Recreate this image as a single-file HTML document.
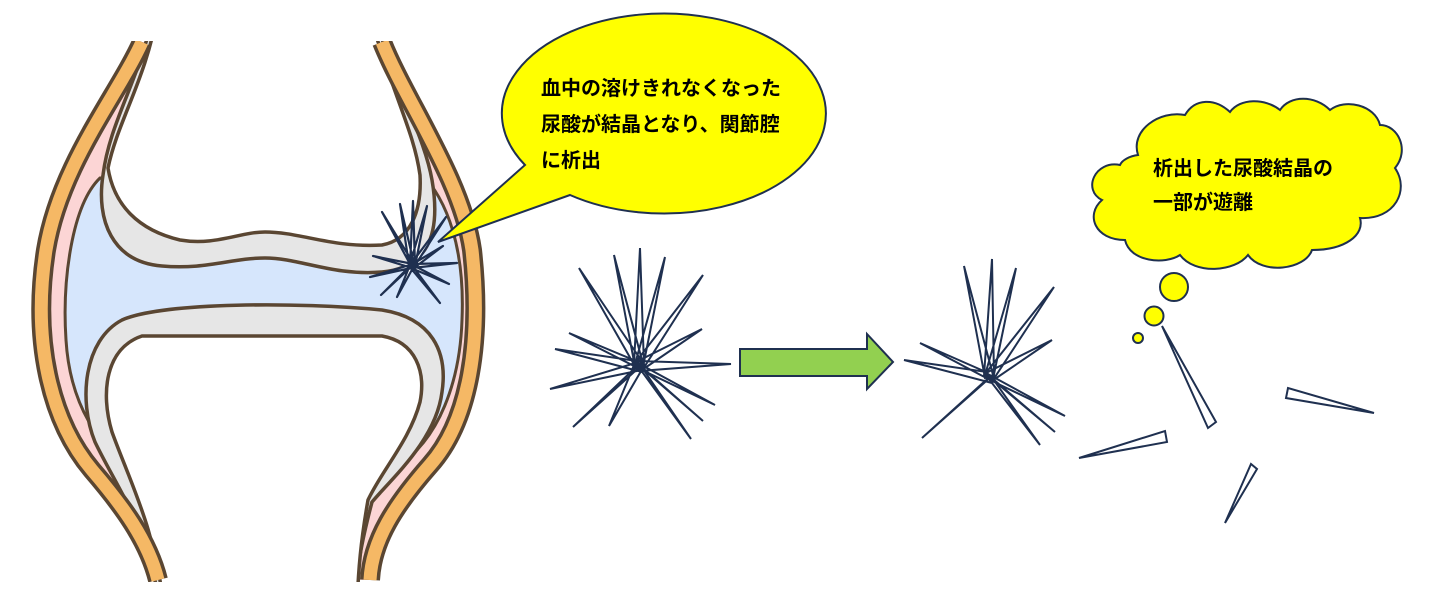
<!DOCTYPE html>
<html><head><meta charset="utf-8">
<style>
html,body{margin:0;padding:0;background:#fff;}
svg{display:block;}
text{font-family:"Liberation Sans","Noto Sans CJK JP",sans-serif;font-weight:bold;font-size:20px;fill:#000;}
</style></head>
<body>
<svg width="1431" height="599" viewBox="0 0 1431 599" xmlns="http://www.w3.org/2000/svg">
<!-- pink interior between strips -->
<path d="M142,42 C118,95 60,165 46,250 C32,340 50,420 92,470 C122,505 148,540 158,580 L370,580 C372,540 395,505 430,465 C470,420 482,340 472,250 C462,180 405,100 382,42 Z" fill="#fcd5d5"/>
<!-- blue cavity -->
<path d="M100,178 C72,205 62,280 66,340 C70,405 100,450 135,468 L395,468 C440,440 460,380 462,320 C465,250 448,200 420,172 Z" fill="#d6e6fc" stroke="#5a4632" stroke-width="3"/>
<!-- upper bone cartilage -->
<path d="M154,10 C140,80 110,120 103,175 C96,220 112,262 162,266 C205,270 232,258 265,258 C300,258 332,276 382,272 C425,268 442,238 432,180 C425,140 402,100 372,10 Z" fill="#e6e6e6" stroke="#5a4632" stroke-width="3.5"/>
<path d="M158,10 C146,80 118,120 108,168 C114,205 138,230 180,240 C215,246 240,232 265,232 C300,232 332,248 382,245 C410,240 422,212 420,175 C414,132 395,100 368,10 Z" fill="#fff" stroke="#5a4632" stroke-width="3.5"/>
<!-- lower bone cartilage -->
<path d="M160,610 C150,530 118,490 95,442 C78,400 84,340 122,320 C162,302 300,302 382,310 C432,318 448,352 442,392 C436,440 392,478 372,502 C362,540 356,570 354,610 Z" fill="#e6e6e6" stroke="#5a4632" stroke-width="3.5"/>
<path d="M164,610 C156,530 130,482 112,432 C100,392 106,348 142,336 L382,336 C416,342 426,372 420,402 C410,440 382,470 368,500 C361,540 358,570 357,610 Z" fill="#fff" stroke="#5a4632" stroke-width="3.5"/>
<!-- orange strips -->
<path d="M142,42 C118,95 60,165 46,250 C32,340 50,420 92,470 C122,505 148,540 158,580" fill="none" stroke="#5a4632" stroke-width="20"/>
<path d="M142,42 C118,95 60,165 46,250 C32,340 50,420 92,470 C122,505 148,540 158,580" fill="none" stroke="#f5b865" stroke-width="13"/>
<path d="M382,42 C405,100 462,180 472,250 C482,340 470,420 430,465 C395,505 372,540 370,580" fill="none" stroke="#5a4632" stroke-width="20"/>
<path d="M382,42 C405,100 462,180 472,250 C482,340 470,420 430,465 C395,505 372,540 370,580" fill="none" stroke="#f5b865" stroke-width="13"/>
<rect x="0" y="582" width="600" height="17" fill="#fff"/>
<rect x="0" y="0" width="600" height="41" fill="#fff"/>

<!-- speech bubble -->
<path d="M525,165 A162,100 0 1 1 570,195 L438,242 Z" fill="#ffff00" stroke="#1f3050" stroke-width="2"/>
<text x="541" y="95">血中の溶けきれなくなった</text>
<text x="541" y="131">尿酸が結晶となり、関節腔</text>
<text x="541" y="167">に析出</text>

<g fill="#fff" stroke="#1f3050" stroke-width="2.2" stroke-linejoin="round">
<path d="M410,264 L382,212 L415,266 Z M409,265 L400,204 L414,264 Z M410,265 L413,201 L415,265 Z M410,264 L427,206 L415,266 Z M411,264 L446,217 L414,267 Z M411,265 L443,246 L414,268 Z M411,264 L457,263 L412,268 Z M413,264 L373,256 L412,268 Z M413,264 L370,277 L411,268 Z M413,265 L381,295 L410,266 Z M414,266 L397,297 L410,265 Z M411,264 L449,284 L411,268 Z M411,264 L440,303 L409,266 Z"/>
</g>

<g fill="#fff" stroke="#1f3050" stroke-width="2" stroke-linejoin="miter">
<path d="M634,364 L640,248 L644,366 Z M635,367 L614,255 L643,364 Z M635,364 L665,257 L643,367 Z M636,368 L579,268 L643,363 Z M635,363 L703,275 L643,369 Z M642,370 L569,333 L636,361 Z M636,362 L702,329 L642,370 Z M642,372 L555,349 L637,361 Z M638,361 L731,364 L639,371 Z M642,361 L550,389 L637,371 Z M636,362 L715,405 L642,370 Z M643,364 L573,427 L635,368 Z M636,362 L703,421 L643,369 Z M644,366 L609,426 L634,365 Z M635,362 L691,439 L643,369 Z"/>
<path d="M984,376 L992,259 L994,377 Z M985,378 L964,266 L993,375 Z M985,375 L1016,268 L993,379 Z M985,374 L1054,287 L993,380 Z M992,381 L920,343 L986,372 Z M986,373 L1052,340 L992,381 Z M992,383 L904,360 L987,372 Z M986,373 L1065,416 L992,381 Z M993,375 L922,438 L985,381 Z M986,373 L1055,432 L993,380 Z M985,374 L1040,445 L993,379 Z"/>
</g>

<!-- green arrow -->
<path d="M740,349 L867,349 L867,334 L893,362 L867,389 L867,376 L740,376 Z" fill="#92d050" stroke="#1f3050" stroke-width="2"/>

<!-- cloud -->
<g fill="#ffff00" stroke="#1f3050" stroke-width="2">
<path d="M1120,165 C1095,160 1082,190 1102,200 C1085,215 1095,240 1125,240 C1130,262 1165,265 1180,255 C1195,275 1235,272 1248,255 C1262,275 1305,270 1312,250 C1345,250 1365,235 1360,218 C1395,220 1410,190 1395,168 C1410,150 1398,125 1380,125 C1375,105 1345,98 1330,110 C1315,95 1290,95 1280,110 C1265,98 1240,98 1230,112 C1215,98 1195,98 1185,115 C1160,110 1130,130 1138,155 C1130,156 1122,160 1120,165 Z"/>
<circle cx="1174" cy="287" r="14"/>
<circle cx="1154" cy="316" r="9.5"/>
<circle cx="1138" cy="338" r="5"/>
</g>
<text x="1153" y="175">析出した尿酸結晶の</text>
<text x="1153" y="209">一部が遊離</text>

<!-- free shards -->
<g fill="#fff" stroke="#1f3050" stroke-width="2">
<path d="M1162,326 L1216,422 L1208,428 Z"/>
<path d="M1374,413 L1288,388 L1286,398 Z"/>
<path d="M1079,458 L1165,431 L1167,442 Z"/>
<path d="M1225,523 L1251,464 L1257,469 Z"/>
</g>
</svg>
</body></html>
